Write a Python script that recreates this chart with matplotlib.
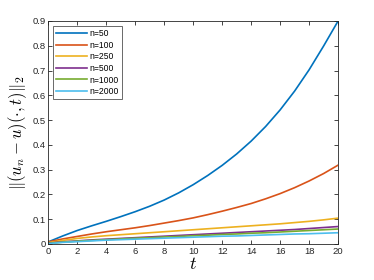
import numpy as np
import matplotlib.pyplot as plt

plt.rcParams['font.family'] = ['Liberation Sans', 'DejaVu Sans']
plt.rcParams['mathtext.fontset'] = 'cm'

t = np.arange(0, 21)

err_50 = [0.008, 0.032, 0.054, 0.073, 0.091, 0.110, 0.130, 0.152, 0.177, 0.206, 0.239,
          0.276, 0.317, 0.363, 0.415, 0.474, 0.541, 0.617, 0.703, 0.799, 0.900]
err_100 = [0.008, 0.020, 0.030, 0.040, 0.049, 0.057, 0.065, 0.074, 0.084, 0.094, 0.105,
           0.118, 0.132, 0.147, 0.163, 0.182, 0.203, 0.227, 0.254, 0.284, 0.318]
err_250 = [0.005, 0.014, 0.022, 0.028, 0.033, 0.037, 0.041, 0.045, 0.049, 0.053, 0.057,
           0.061, 0.065, 0.069, 0.073, 0.077, 0.081, 0.086, 0.091, 0.097, 0.104]
err_500 = [0.003, 0.008, 0.012, 0.016, 0.019, 0.022, 0.025, 0.028, 0.031, 0.034, 0.037,
           0.040, 0.043, 0.046, 0.049, 0.052, 0.055, 0.058, 0.062, 0.066, 0.070]
err_1000 = [0.002, 0.007, 0.011, 0.014, 0.017, 0.020, 0.023, 0.025, 0.028, 0.030, 0.033,
            0.035, 0.038, 0.040, 0.043, 0.045, 0.048, 0.051, 0.054, 0.057, 0.060]
err_2000 = [0.001, 0.006, 0.009, 0.012, 0.015, 0.017, 0.019, 0.021, 0.023, 0.025, 0.027,
            0.029, 0.031, 0.032, 0.034, 0.036, 0.038, 0.040, 0.041, 0.043, 0.045]

labels = ['n=50', 'n=100', 'n=250', 'n=500', 'n=1000', 'n=2000']
colors = ['#0072BD', '#D95319', '#EDB120', '#7E2F8E', '#77AC30', '#4DBEEE']
series = [err_50, err_100, err_250, err_500, err_1000, err_2000]

fig = plt.figure(figsize=(3.74, 2.8), dpi=100)
ax = fig.add_axes([0.129, 0.129, 0.775, 0.796])

for y, lab, c in zip(series, labels, colors):
    ax.plot(t, y, color=c, lw=1.2, label=lab)

ax.set_xlim(0, 20)
ax.set_ylim(0, 0.9)
ax.set_xticks(np.arange(0, 21, 2))
ax.set_yticks(np.arange(0, 0.91, 0.1))
ax.set_yticklabels(['0', '0.1', '0.2', '0.3', '0.4', '0.5', '0.6', '0.7', '0.8', '0.9'])

gray = '#262626'
for s in ax.spines.values():
    s.set_color(gray)
    s.set_linewidth(0.6)
ax.tick_params(direction='in', length=3, width=0.6, colors=gray, labelsize=6.8,
               top=True, right=True, pad=2)

ax.set_xlabel(r'$t$', fontsize=13, labelpad=0)
ax.set_ylabel(r'$\|(u_n - u)(\cdot,t)\|_2$', fontsize=12, labelpad=2)

leg = ax.legend(loc='upper left', fontsize=6.2, fancybox=False, edgecolor=gray,
                handlelength=3.6, handletextpad=0.2, labelspacing=0.3,
                borderpad=0.35, borderaxespad=0.6)
leg.get_frame().set_linewidth(0.6)

fig.savefig('out.png', dpi=100)
